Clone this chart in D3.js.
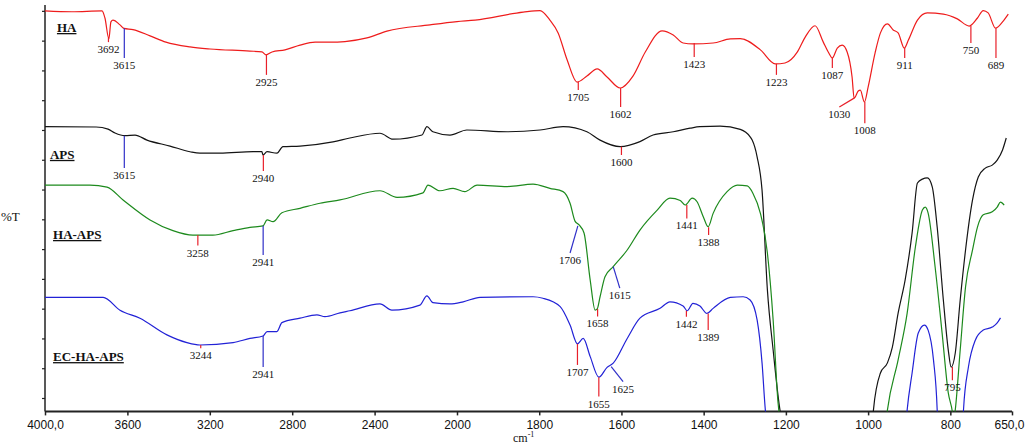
<!DOCTYPE html>
<html>
<head>
<meta charset="utf-8">
<script src="https://cdn.jsdelivr.net/npm/d3@7"></script>
<style>
  body { margin: 0; background: #fff; }
  svg { display: block; }
</style>
</head>
<body>
<svg id="chart"></svg>
<script>
// wavenumber ticks (cm-1) and their labels
const xTicks = [4000, 3600, 3200, 2800, 2400, 2000, 1800, 1600, 1400, 1200, 1000, 800, 650];
const xTickLabels = ["4000,0", "3600", "3200", "2800", "2400", "2000", "1800", "1600", "1400", "1200", "1000", "800", "650,0"];
const yTicks = d3.range(0, 131, 10);

// spectra: [wavenumber, %T (stacked, arbitrary offset)]
const haSpectrum = [[4000,130.0],[3870,129.7],[3723,130.0],[3709,127.6],[3690,120.6],[3680,126.3],[3670,126.9],[3636,125.3],[3617,124.1],[3573,123.7],[3490,121.6],[3413,119.5],[3296,117.9],[3199,117.2],[3005,116.5],[2947,116.2],[2927,115.2],[2898,116.2],[2835,116.9],[2762,118.5],[2689,119.5],[2617,119.5],[2544,119.7],[2437,120.9],[2340,123.2],[2131,125.3],[2000,126.4],[1956,126.9],[1839,129.6],[1798,130.1],[1774,126.9],[1754,122.6],[1732,113.5],[1708,106.1],[1684,108.1],[1659,110.5],[1635,107.8],[1603,104.1],[1572,108.1],[1542,116.2],[1501,123.3],[1474,121.9],[1450,119.2],[1426,118.9],[1377,119.2],[1335,120.6],[1311,120.7],[1262,116.9],[1226,112.2],[1202,112.5],[1172,116.2],[1153,121.2],[1129,125.0],[1109,119.5],[1097,116.2],[1087,114.2],[1075,117.5],[1063,118.5],[1051,116.2],[1039,107.8],[1034,100.7],[1024,103.1],[1019,103.4],[1009,99.4],[1000,104.4],[983,115.9],[970,122.6],[953,125.6],[939,123.6],[927,122.6],[912,117.5],[902,120.2],[880,126.9],[856,129.3],[817,128.9],[783,127.3],[754,124.9],[734,127.6],[720,130.1],[708,129.3],[690,124.2],[673,126.3],[659,128.9]];

const apsSpectrum = [[4000,91.1],[3752,91.0],[3694,90.3],[3660,89.0],[3612,88.1],[3563,88.3],[3505,86.6],[3393,84.6],[3296,82.7],[3248,82.2],[3151,82.2],[2990,82.7],[2947,82.7],[2942,81.6],[2922,82.7],[2874,82.2],[2845,84.4],[2762,84.6],[2602,86.0],[2520,87.3],[2374,88.9],[2311,86.9],[2170,88.3],[2146,91.1],[2117,89.4],[2034,88.3],[1976,90.0],[1878,89.4],[1798,90.0],[1742,91.1],[1684,89.4],[1652,86.6],[1603,84.4],[1555,86.1],[1523,88.3],[1474,89.4],[1433,90.6],[1409,91.1],[1360,91.3],[1311,90.2],[1287,87.7],[1282,86.6],[1270,81.0],[1258,69.8],[1245,36.3],[1231,16.1],[1214,-4.4],[1200,-12],[990,-12],[987,-4.0],[970,8.4],[953,11.8],[941,17.1],[927,28.5],[910,39.6],[893,55.4],[880,72.2],[868,73.5],[856,73.9],[844,70.9],[832,57.4],[817,32.9],[805,16.1],[798,10.4],[788,15.1],[776,32.9],[763,49.7],[746,66.5],[732,74.2],[715,77.2],[698,78.2],[686,79.9],[673,83.3],[664,87.3]];

const haApsSpectrum = [[4000,71.5],[3782,71.5],[3699,70.8],[3621,66.5],[3490,59.8],[3379,56.2],[3282,54.7],[3185,54.7],[3087,56.2],[3005,57.3],[2942,57.8],[2922,59.8],[2893,59.2],[2850,62.2],[2762,63.7],[2665,65.4],[2568,66.5],[2374,69.6],[2291,67.4],[2165,68.9],[2141,71.5],[2083,69.6],[2019,70.4],[1981,69.3],[1951,71.5],[1878,71.0],[1815,71.8],[1774,70.4],[1742,69.3],[1725,65.4],[1713,59.4],[1703,58.1],[1691,55.4],[1676,39.6],[1664,29.5],[1659,29.9],[1652,34.0],[1640,40.7],[1620,44.1],[1586,49.7],[1555,56.4],[1513,63.1],[1482,67.1],[1457,66.3],[1445,64.8],[1428,67.1],[1416,65.9],[1401,60.9],[1389,57.5],[1377,62.0],[1343,69.3],[1318,71.5],[1294,71.2],[1280,68.7],[1262,62.0],[1245,48.7],[1231,26.2],[1219,-1.7],[1205,-12],[960,-12],[953,-4.0],[927,12.8],[905,28.5],[885,50.7],[868,63.1],[861,64.1],[854,62.1],[837,44.0],[820,21.8],[805,1.7],[795,-4.7],[792,-8],[788,-4.0],[776,16.1],[763,37.3],[746,49.7],[734,57.4],[720,61.5],[698,62.5],[686,64.1],[678,65.8],[669,64.8]];

const ecHaApsSpectrum = [[4000,33.8],[3718,33.8],[3636,29.5],[3539,26.8],[3408,21.2],[3311,18.6],[3248,17.8],[3087,18.6],[3005,20.0],[2942,20.8],[2922,22.3],[2874,22.3],[2850,25.3],[2762,26.8],[2680,27.9],[2641,27.3],[2568,28.6],[2520,29.3],[2374,31.6],[2316,29.5],[2180,31.2],[2146,34.3],[2117,32.0],[2034,31.6],[1985,32.3],[1944,33.8],[1815,34.0],[1791,33.5],[1749,30.7],[1725,24.5],[1707,18.2],[1693,20.0],[1676,13.9],[1655,7.0],[1635,10.3],[1620,11.7],[1586,20.0],[1555,26.8],[1506,30.1],[1482,32.3],[1450,30.9],[1440,29.3],[1426,31.8],[1409,30.9],[1392,28.4],[1377,30.1],[1335,33.8],[1304,34.0],[1287,32.9],[1270,26.2],[1258,11.8],[1250,-4.0],[1240,-12],[910,-12],[905,-4.0],[893,8.4],[878,21.8],[863,24.5],[854,22.8],[841,12.8],[832,-4.0],[830,-12],[770,-12],[768,-4.0],[756,10.4],[739,19.5],[720,22.8],[698,23.8],[686,25.2],[678,26.9]];

// peak annotations: [label, wn top, %T top, wn bottom, %T bottom, leader colour]
const haPeaks = [["3692",3692,121,3692,119.5,"r"],["3615",3615,124.2,3615,114.2,"b"],["2925",2925,115.2,2925,108.5,"r"],["1705",1705,106.1,1705,103.4,"r"],["1602",1602,104.1,1602,97.7,"r"],["1423",1423,119.2,1423,114.5,"r"],["1223",1223,112.2,1223,108.5,"r"],["1087",1087,114.2,1087,110.8,"r"],["1030",1034,100.7,1070,97.7,"r"],["1008",1008,99.4,1008,92.3,"r"],["911",911,117.5,911,114.2,"r"],["750",750,124.9,750,119.2,"r"],["689",689,124.2,689,114.2,"r"]];
const apsPeaks = [["3615",3615,88.1,3615,77.2,"b"],["2940",2940,81.6,2940,76.2,"r"],["1600",1600,84.4,1600,81.6,"r"],["795",795,10.4,795,6.0,"r"]];
const haApsPeaks = [["3258",3258,54.7,3258,51.2,"r"],["2941",2941,57.8,2941,48.0,"b"],["1706",1706,57.8,1725,48.7,"b"],["1615",1620,44.1,1604,36.9,"b"],["1658",1658,29.9,1658,27.4,"r"],["1441",1441,64.8,1441,60.3,"r"],["1388",1388,57.3,1388,54.7,"r"]];
const ecHaApsPeaks = [["3244",3244,17.8,3244,16.7,"r"],["2941",2941,20.8,2941,10.4,"b"],["1707",1707,18.2,1707,11.1,"r"],["1655",1655,7.0,1655,0.5,"r"],["1625",1625,10.5,1596,5.5,"b"],["1442",1442,29.3,1442,27.3,"r"],["1389",1389,28.4,1389,22.8,"r"]];

const width = 1025, height = 444;
const leaderColor = { r: "#e8202a", b: "#3030c8" };

const svg = d3.select("#chart").attr("width", width).attr("height", height);

// scale change at 2000 cm-1, as on the instrument printout
const x = d3.scaleLinear().domain([4000, 2000, 650]).range([45, 457, 1012]);
const y = d3.scaleLinear().domain([-4.5, 132]).range([411.4, 4.9]);

svg.append("defs").append("clipPath").attr("id", "plotClip")
    .append("rect")
    .attr("x", x(4000)).attr("y", 0)
    .attr("width", x(650) - x(4000)).attr("height", y(-4.5));

const series = [
    { name: "HA", data: haSpectrum, color: "#ee1c1c", peaks: haPeaks, lx: 3942, ly: 122.9 },
    { name: "APS", data: apsSpectrum, color: "#141414", peaks: apsPeaks, lx: 3976, ly: 80.3 },
    { name: "HA-APS", data: haApsSpectrum, color: "#1d8a1d", peaks: haApsPeaks, lx: 3961, ly: 53.4 },
    { name: "EC-HA-APS", data: ecHaApsSpectrum, color: "#2222d6", peaks: ecHaApsPeaks, lx: 3961, ly: 12.4 }
];

const line = d3.line()
    .x(d => x(d[0]))
    .y(d => y(d[1]))
    .curve(d3.curveMonotoneX);

// axes
const axisX = d3.axisBottom(x)
    .tickValues(xTicks)
    .tickSize(4)
    .tickFormat((d, i) => xTickLabels[i]);
const gx = svg.append("g")
    .attr("transform", `translate(0, ${y(-4.5)})`)
    .call(axisX);
gx.select(".domain").attr("stroke", "#222").attr("stroke-width", 2).attr("d", `M${x(4000)},0H${x(650)}`);
gx.selectAll(".tick line").attr("stroke", "#222").attr("stroke-width", 1.5);
gx.selectAll(".tick text")
    .attr("y", 9)
    .style("font-family", "'Liberation Sans', Arial, sans-serif")
    .style("font-size", "12px")
    .attr("fill", "#111");
// last label would run off the page edge: right-align it
gx.selectAll(".tick text").filter(d => d === 650)
    .attr("text-anchor", "end")
    .attr("dx", 12);

const axisY = d3.axisLeft(y)
    .tickValues(yTicks)
    .tickSize(3)
    .tickFormat("");
const gy = svg.append("g")
    .attr("transform", `translate(${x(4000)}, 0)`)
    .call(axisY);
gy.select(".domain").attr("stroke", "#222").attr("stroke-width", 1.5).attr("d", `M0,${y(132)}V${y(-4.5)}`);
gy.selectAll(".tick line").attr("stroke", "#222").attr("stroke-width", 1.2);

// axis titles
svg.append("text")
    .attr("x", 1).attr("y", 221)
    .style("font-family", "'Liberation Serif', 'Times New Roman', serif")
    .style("font-size", "13px")
    .attr("fill", "#111")
    .text("%T");

const xTitle = svg.append("text")
    .attr("x", 513).attr("y", 442)
    .style("font-family", "'Liberation Serif', 'Times New Roman', serif")
    .style("font-size", "12px")
    .attr("fill", "#111");
xTitle.append("tspan").text("cm");
xTitle.append("tspan").attr("dy", -5).style("font-size", "8px").text("-1");

// spectra
const plot = svg.append("g").attr("clip-path", "url(#plotClip)");
series.forEach(s => {
    plot.append("path")
        .datum(s.data)
        .attr("fill", "none")
        .attr("stroke", s.color)
        .attr("stroke-width", 1.2)
        .attr("stroke-linejoin", "round")
        .attr("d", line);
});

// peak leaders and labels
series.forEach(s => {
    const g = svg.append("g");
    g.selectAll("line")
        .data(s.peaks)
        .enter()
        .append("line")
        .attr("x1", d => x(d[1]))
        .attr("y1", d => y(d[2]))
        .attr("x2", d => x(d[3]))
        .attr("y2", d => y(d[4]))
        .attr("stroke", d => leaderColor[d[5]])
        .attr("stroke-width", 1.2);
    g.selectAll("text")
        .data(s.peaks)
        .enter()
        .append("text")
        .attr("x", d => x(d[3]))
        .attr("y", d => y(d[4]) + 11)
        .attr("text-anchor", "middle")
        .style("font-family", "'Liberation Serif', 'Times New Roman', serif")
        .style("font-size", "11px")
        .attr("fill", "#111")
        .text(d => d[0]);
});

// series names
svg.append("g").selectAll("text")
    .data(series)
    .enter()
    .append("text")
    .attr("x", d => x(d.lx))
    .attr("y", d => y(d.ly))
    .style("font-family", "'Liberation Serif', 'Times New Roman', serif")
    .style("font-size", "13px")
    .style("font-weight", "bold")
    .style("text-decoration", "underline")
    .attr("fill", "#111")
    .text(d => d.name);
</script>
</body>
</html>
